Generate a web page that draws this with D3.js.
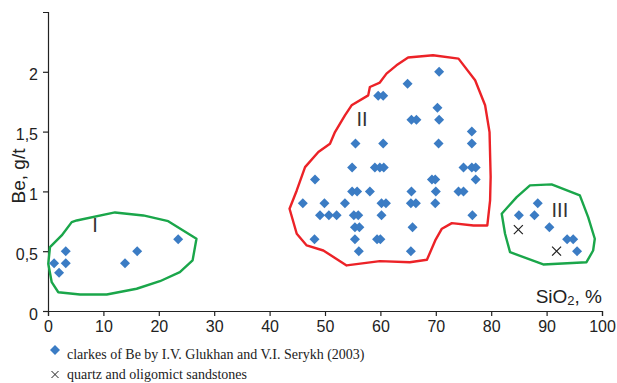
<!DOCTYPE html>
<html>
<head>
<meta charset="utf-8">
<script src="https://cdn.jsdelivr.net/npm/d3@7"></script>
<style>
  body { margin: 0; background: #fff; }
  .axis text { font-family: "Liberation Sans", Arial, sans-serif; font-size: 16px; fill: #222; }
  .axis path, .axis line { stroke: #222; stroke-width: 1.2; }
</style>
</head>
<body>
<div id="chart"></div>
<script>
// clarkes of Be (SiO2 %, Be g/t)
const clarkePoints = [
  [1.1, 0.40], [2.0, 0.32], [3.2, 0.40], [3.2, 0.50], [13.9, 0.40], [16.1, 0.50], [23.5, 0.60],
  [70.6, 2.0], [64.9, 1.9], [59.6, 1.8], [60.5, 1.8], [70.3, 1.7], [65.6, 1.6], [66.5, 1.6],
  [70.6, 1.6], [76.5, 1.5], [55.5, 1.4], [60.5, 1.4], [70.5, 1.4], [76.5, 1.4],
  [54.9, 1.2], [59.0, 1.2], [59.9, 1.2], [60.6, 1.2], [75.0, 1.2], [76.5, 1.2], [77.2, 1.2],
  [48.2, 1.1], [69.3, 1.1], [69.9, 1.1], [77.2, 1.1],
  [54.9, 1.0], [55.8, 1.0], [58.1, 1.0], [65.6, 1.0], [70.0, 1.0], [74.1, 1.0], [75.0, 1.0],
  [46.0, 0.9], [49.9, 0.9], [53.6, 0.9], [60.2, 0.9], [61.0, 0.9], [65.5, 0.9], [66.4, 0.9], [69.9, 0.9],
  [49.1, 0.8], [50.7, 0.8], [52.1, 0.8], [55.2, 0.8], [56.0, 0.8], [60.2, 0.8], [76.6, 0.8],
  [55.4, 0.7], [56.2, 0.7], [65.8, 0.7],
  [48.1, 0.6], [55.4, 0.6], [59.4, 0.6], [60.0, 0.6], [56.1, 0.5], [65.5, 0.5],
  [88.4, 0.9], [85.0, 0.8], [87.8, 0.8], [90.5, 0.7], [93.7, 0.6], [94.8, 0.6], [95.5, 0.5]
];

// quartz and oligomict sandstones
const sandstonePoints = [[84.9, 0.68], [91.8, 0.50]];

// outlines of groups I, II, III
const hullI = [
  [0.36, 0.534], [2.47, 0.632], [4.28, 0.743], [5.18, 0.757], [12.09, 0.824], [17.2, 0.799],
  [21.7, 0.751], [26.8, 0.604], [26.1, 0.423], [23.8, 0.325], [20.2, 0.249], [16.0, 0.186],
  [10.6, 0.138], [5.78, 0.138], [1.86, 0.157], [0.67, 0.241], [0.05, 0.395]
];
const hullII = [
  [65.0, 2.119], [69.5, 2.138], [74.1, 2.110], [77.1, 1.929], [78.9, 1.720], [79.7, 1.496],
  [79.9, 1.120], [79.8, 0.925], [79.3, 0.715], [76.8, 0.715], [72.9, 0.735], [71.1, 0.688],
  [69.9, 0.590], [68.4, 0.428], [65.3, 0.408], [59.9, 0.417], [53.9, 0.381], [49.7, 0.506],
  [46.7, 0.548], [44.9, 0.646], [43.6, 0.855], [44.9, 1.008], [46.4, 1.203], [48.8, 1.329],
  [50.9, 1.399], [51.8, 1.496], [53.6, 1.636], [54.8, 1.720], [57.8, 1.803], [58.1, 1.873],
  [59.9, 1.910], [61.1, 1.985], [62.9, 2.054]
];
const hullIII = [
  [87.0, 1.050], [90.9, 1.059], [96.0, 0.967], [97.5, 0.785], [98.7, 0.604], [98.4, 0.506],
  [97.2, 0.408], [89.4, 0.389], [83.4, 0.492], [82.5, 0.646], [81.9, 0.813], [84.6, 0.952]
];

const groupLabels = ['I', 'II', 'III'];
const groupLabelPos = [[8.5, 0.66], [56.7, 1.55], [92.4, 0.79]];

const xTicks = [0, 10, 20, 30, 40, 50, 60, 70, 80, 90, 100];
const yTicks = [0, 0.5, 1, 1.5, 2];
const legendLabels = ['clarkes of Be by I.V. Glukhan and V.I. Serykh (2003)', 'quartz and oligomict sandstones'];

const width = 617;
const height = 383;
const margin = { top: 12, right: 15, bottom: 72, left: 48 };

const svg = d3.select('#chart')
  .append('svg')
  .attr('width', width)
  .attr('height', height);

const xScale = d3.scaleLinear()
  .domain([0, 100])
  .range([margin.left, width - margin.right]);

const yScale = d3.scaleLinear()
  .domain([0, 2.5])
  .range([height - margin.bottom, margin.top]);

const fmt = d => String(d).replace('.', ',');

svg.append('g')
  .attr('class', 'axis')
  .attr('transform', 'translate(0,' + yScale(0) + ')')
  .call(d3.axisBottom(xScale).tickValues(xTicks).tickSizeOuter(0).tickSize(5).tickPadding(4.5));

svg.append('g')
  .attr('class', 'axis')
  .attr('transform', 'translate(' + xScale(0) + ',0)')
  .call(d3.axisLeft(yScale).tickValues(yTicks).tickFormat(fmt).tickSizeOuter(0).tickSize(5).tickPadding(5))
  .selectAll('text')
  .attr('dy', '0.5em');

// axis titles
svg.append('text')
  .attr('transform', 'translate(24.5,' + 176 + ') rotate(-90)')
  .attr('text-anchor', 'middle')
  .style('font-family', '"Liberation Sans", Arial, sans-serif')
  .style('font-size', '19px')
  .style('fill', '#222')
  .text('Be, g/t');

const xt = svg.append('text')
  .attr('x', xScale(100))
  .attr('y', yScale(0) - 8)
  .attr('text-anchor', 'end')
  .style('font-family', '"Liberation Sans", Arial, sans-serif')
  .style('font-size', '19px')
  .style('fill', '#222');
xt.append('tspan').text('SiO');
xt.append('tspan').attr('dy', 2).style('font-size', '13px').text('2');
xt.append('tspan').attr('dy', -2).text(', %');

// group outlines
const line = d3.line()
  .x(d => xScale(d[0]))
  .y(d => yScale(d[1]))
  .curve(d3.curveLinearClosed);

const hulls = [
  { pts: hullI, color: '#1aa64a' },
  { pts: hullII, color: '#ec2227' },
  { pts: hullIII, color: '#1aa64a' }
];

svg.selectAll('.hull')
  .data(hulls)
  .enter()
  .append('path')
  .attr('class', 'hull')
  .attr('d', d => line(d.pts))
  .attr('fill', 'none')
  .attr('stroke', d => d.color)
  .attr('stroke-width', 2.4)
  .attr('stroke-linejoin', 'round');

// group labels
svg.selectAll('.glabel')
  .data(groupLabels)
  .enter()
  .append('text')
  .attr('class', 'glabel')
  .attr('x', (d, i) => xScale(groupLabelPos[i][0]))
  .attr('y', (d, i) => yScale(groupLabelPos[i][1]))
  .attr('text-anchor', 'middle')
  .style('font-family', '"Liberation Sans", Arial, sans-serif')
  .style('font-size', '20px')
  .style('fill', '#333')
  .text(d => d);

// diamonds
const diamond = 'M0,-5L5,0L0,5L-5,0Z';
svg.selectAll('.clarke')
  .data(clarkePoints)
  .enter()
  .append('path')
  .attr('class', 'clarke')
  .attr('d', diamond)
  .attr('transform', d => 'translate(' + xScale(d[0]) + ',' + yScale(d[1]) + ')')
  .attr('fill', '#3b7cc4');

// crosses
const cross = 'M-4.5,-4.5L4.5,4.5M-4.5,4.5L4.5,-4.5';
svg.selectAll('.sand')
  .data(sandstonePoints)
  .enter()
  .append('path')
  .attr('class', 'sand')
  .attr('d', cross)
  .attr('transform', d => 'translate(' + xScale(d[0]) + ',' + yScale(d[1]) + ')')
  .attr('stroke', '#222')
  .attr('stroke-width', 1.2);

// legend
const legend = svg.append('g').attr('transform', 'translate(55,350)');
legend.append('path').attr('d', 'M0,-5L5,0L0,5L-5,0Z').attr('fill', '#3b7cc4');
legend.append('path').attr('d', 'M-3.5,21L3.5,28M-3.5,28L3.5,21').attr('stroke', '#222').attr('stroke-width', 1);
legend.selectAll('text')
  .data(legendLabels)
  .enter()
  .append('text')
  .attr('x', 12)
  .attr('y', (d, i) => i * 20 + 9)
  .style('font-family', '"Liberation Serif", "Times New Roman", serif')
  .style('font-size', '14px')
  .style('fill', '#222')
  .text(d => d);
</script>
</body>
</html>
